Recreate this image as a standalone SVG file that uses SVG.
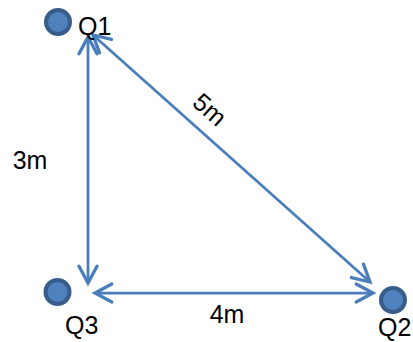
<svg xmlns="http://www.w3.org/2000/svg" width="413" height="342" viewBox="0 0 413 342">
<style>
.node{fill:#4f81bd;stroke:#385d8a;stroke-width:4}
.lbl{font-family:"Liberation Sans",Arial,sans-serif;font-size:25px;fill:#000}
.edge{stroke:#4a7ebb;stroke-width:2.75;fill:none}
</style>
<defs>
<marker id="arr" markerUnits="userSpaceOnUse" markerWidth="24" markerHeight="24" viewBox="-2 -10 20 20" refX="15" refY="0" orient="auto-start-reverse">
<path d="M1,-7.5 L15,0 L1,7.5" fill="none" stroke="#4a7ebb" stroke-width="2.75" stroke-linecap="round"/>
</marker>
</defs>
<rect width="413" height="342" fill="#fff"/>
<g id="connectors">
<line class="edge" x1="88" y1="37" x2="88" y2="283" marker-start="url(#arr)" marker-end="url(#arr)"/>
<line class="edge" x1="95" y1="293" x2="373" y2="293" marker-start="url(#arr)" marker-end="url(#arr)"/>
<line class="edge" x1="93" y1="35" x2="370" y2="282" marker-start="url(#arr)" marker-end="url(#arr)"/>
<text class="lbl" x="30" y="169" text-anchor="middle">3m</text>
<text class="lbl" x="227" y="323" text-anchor="middle">4m</text>
<text class="lbl" x="0" y="0" text-anchor="middle" transform="translate(204,116) rotate(41.7)">5m</text>
</g>
<g id="Q1">
<circle class="node" cx="58" cy="22" r="12"/>
<text class="lbl" x="78" y="35">Q1</text>
</g>
<g id="Q3">
<circle class="node" cx="57.5" cy="292" r="12"/>
<text class="lbl" x="65" y="334">Q3</text>
</g>
<g id="Q2">
<circle class="node" cx="393" cy="300" r="12"/>
<text class="lbl" x="378" y="336">Q2</text>
</g>
</svg>
